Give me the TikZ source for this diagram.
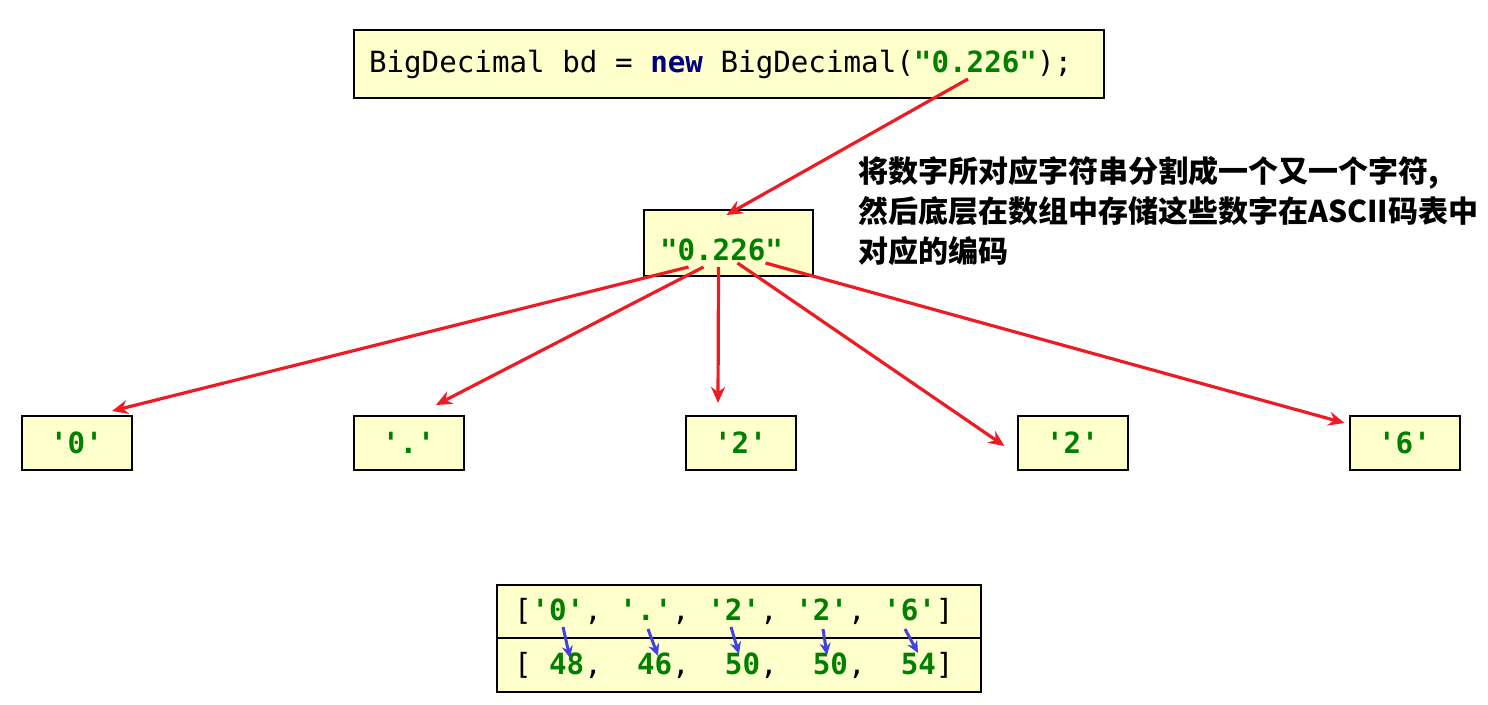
\documentclass[tikz,border=0pt]{standalone}
\usepackage{fontspec}
\setmonofont{DejaVu Sans Mono}
\newfontfamily\cjk{Noto Sans CJK SC}
\usetikzlibrary{arrows.meta,calc}

\definecolor{boxfill}{RGB}{255,255,204}
\definecolor{kwblue}{RGB}{0,0,128}
\definecolor{strgreen}{RGB}{0,128,0}
\definecolor{arrowred}{RGB}{237,28,36}
\definecolor{arrowblue}{RGB}{66,66,220}
\newcommand{\G}[1]{\textbf{\color{strgreen}#1}}
\newcommand{\codefont}{\fontsize{14.6}{17}\selectfont\ttfamily\frenchspacing}

\begin{document}
\begin{tikzpicture}[x=0.5pt,y=-0.5pt,
  box/.style={draw=black,line width=1pt,fill=boxfill,inner sep=0pt},
  code/.style={font=\codefont},
  split/.style={draw=arrowred,line width=1.6pt,-{Stealth[length=8pt,width=7pt]}},
  encode/.style={draw=arrowblue,line width=1.5pt,-{Stealth[length=6pt,width=5.5pt]}}]
%
\useasboundingbox (0,0) rectangle (1488,705);
%
\node[box,code,minimum height=34pt,inner xsep=7.5pt] (decl) at (729,64)
  {\makebox[360pt][l]{BigDecimal bd = \textbf{\color{kwblue}new} BigDecimal(\G{"0.226"});}};
\node[box,code,minimum height=33pt,inner xsep=8pt] (str) at (728.5,243)
  {\makebox[68.5pt][l]{\raisebox{-9pt}[0pt][0pt]{\G{"0.226"}}}};
%
\node[box,code,minimum width=55pt,minimum height=27pt] (c0) at (76.5,443) {\G{'0'}};
\node[box,code,minimum width=55pt,minimum height=27pt] (c1) at (408.5,443) {\G{'.'}};
\node[box,code,minimum width=55pt,minimum height=27pt] (c2) at (740.5,443) {\G{'2'}};
\node[box,code,minimum width=55pt,minimum height=27pt] (c3) at (1072.5,443) {\G{'2'}};
\node[box,code,minimum width=55pt,minimum height=27pt] (c4) at (1404.5,443) {\G{'6'}};
%
\node[box,code,minimum height=26.5pt,inner xsep=8.5pt] (chars) at (739,611.5)
  {\makebox[225pt][l]{[\G{'0'}, \G{'.'}, \G{'2'}, \G{'2'}, \G{'6'}]}};
\node[box,code,minimum height=27pt,inner xsep=8.5pt] (codes) at (739,665)
  {\makebox[225pt][l]{[\ \G{48},\ \ \G{46},\ \ \G{50},\ \ \G{50},\ \ \G{54}]}};
%
\node[anchor=north west,inner sep=0pt,align=left,
  font=\cjk\bfseries\fontsize{15}{20}\selectfont] (note) at (858,156)
  {将数字所对应字符串分割成一个又一个字符,\\然后底层在数组中存储这些数字在ASCII码表中\\对应的编码};
%
\draw[split] ($(decl.south)+(239,-20)$) -- ($(str.north)+(-2,6)$);
\draw[split] ($(str.south)+(-40,-10)$) -- ($(c0.north)+(35.5,-4)$);
\draw[split] ($(str.south)+(-25,-10)$) -- ($(c1.north)+(27.5,-10)$);
\draw[split] ($(str.south)+(-10,-10)$) -- ($(c2.north)+(-22.5,-12)$);
\draw[split] ($(str.south)+(9,-14)$) -- ($(c3.west)+(-12,3)$);
\draw[split] ($(str.south)+(37,-14)$) -- ($(c4.west)+(-4,-20)$);
%
\coordinate (a0) at (563,627); \coordinate (b0) at (570,658);
\coordinate (a1) at (648,629); \coordinate (b1) at (658,656);
\coordinate (a2) at (731,627); \coordinate (b2) at (739,654);
\coordinate (a3) at (823,629); \coordinate (b3) at (827,655);
\coordinate (a4) at (905,629); \coordinate (b4) at (918,653);
\draw[encode] (a0) -- (b0);
\draw[encode] (a1) -- (b1);
\draw[encode] (a2) -- (b2);
\draw[encode] (a3) -- (b3);
\draw[encode] (a4) -- (b4);
\end{tikzpicture}
\end{document}
